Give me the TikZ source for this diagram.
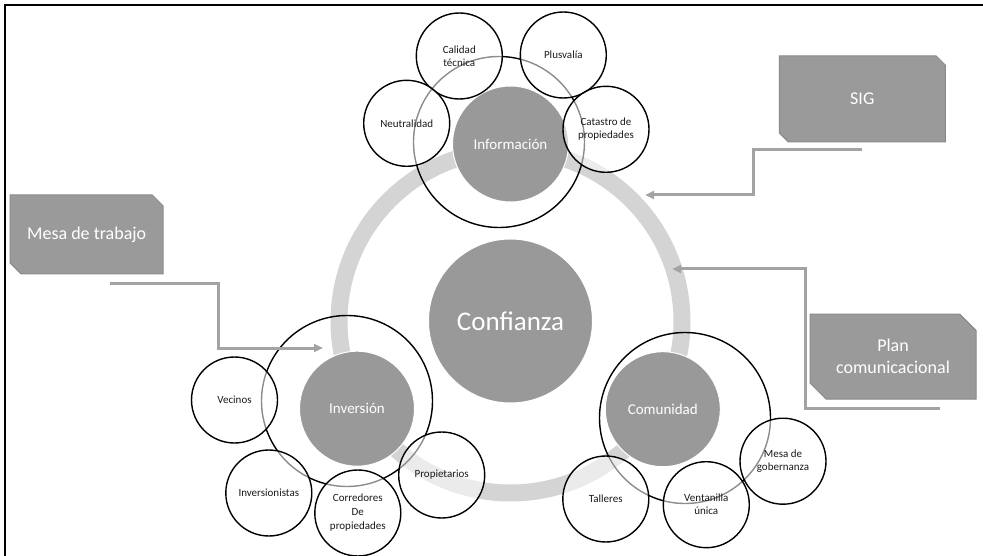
\documentclass[tikz,border=0pt]{standalone}
\usepackage{fontspec}
\setmainfont{Carlito}
\usetikzlibrary{arrows.meta,shapes.misc}
\definecolor{darkfill}{HTML}{999999}
\definecolor{ringgray}{HTML}{D4D4D4}
\definecolor{arrowgray}{HTML}{A3A3A3}
\definecolor{boxfill}{HTML}{9A9A9A}
\definecolor{boxborder}{HTML}{8A8A8A}
\definecolor{smalltext}{HTML}{1A1A1A}
\tikzset{
  darkcirc/.style={circle, fill=darkfill, draw=white, line width=1pt, text=white, inner sep=0pt},
  outlinecirc/.style={circle, draw=black, line width=1.4pt, inner sep=0pt, minimum size=171pt},
  smallcirc/.style={circle, draw=black, line width=1.4pt, fill=white, fill opacity=0.55, text opacity=1,
    text=smalltext, minimum size=86pt, inner sep=0pt, align=center, font=\fontsize{11}{13}\selectfont},
  boxnode/.style={chamfered rectangle, chamfered rectangle corners={north east,south west},
    chamfered rectangle xsep=13pt, fill=boxfill, draw=boxborder, line width=1pt, text=white,
    inner sep=0pt, align=center, font=\fontsize{18}{22}\selectfont},
  arrowline/.style={draw=arrowgray, line width=3pt, -{Triangle[length=9pt,width=8pt]}}
}
\begin{document}
\begin{tikzpicture}[x=1pt,y=-1pt]
\useasboundingbox (0,0) rectangle (983,556);
\draw[line width=2pt] (5,556) -- (5,5) -- (983,5);

% ring
\draw[ringgray, line width=17pt] (510.5,321.5) circle[radius=171.5pt];

% central circle
\node[darkcirc, minimum size=164pt, font=\fontsize{27}{32}\selectfont] (conf) at (510.5,321) {Confianza};

% main dark circles
\node[darkcirc, minimum size=116pt, font=\fontsize{15}{18}\selectfont] (info) at (510.5,144) {Información};
\node[darkcirc, minimum size=115pt, font=\fontsize{15}{18}\selectfont] (inv) at (357,408.7) {Inversión};
\node[darkcirc, minimum size=115pt, font=\fontsize{15}{18}\selectfont] (com) at (662.8,409.2) {Comunidad};

% outline circles
\node[outlinecirc] (infoO) at (499,142) {};
\node[outlinecirc] (invO) at (347,401) {};
\node[outlinecirc] (comO) at (685,418) {};

% small circles - Informacion
\node[smallcirc] (calidad) at (459.3,56) {Calidad\\técnica};
\node[smallcirc] (plus) at (563.3,55) {Plusvalía};
\node[smallcirc] (neutral) at (406.7,123.3) {Neutralidad};
\node[smallcirc] (catastro) at (606,129.3) {Catastro de\\propiedades};

% small circles - Inversion
\node[smallcirc] (vecinos) at (234.5,400) {Vecinos};
\node[smallcirc] (inversionistas) at (268.8,493) {Inversionistas};
\node[smallcirc] (corredores) at (357.8,513) {Corredores\\[1pt]De\\[1pt]propiedades};
\node[smallcirc] (propietarios) at (441.7,475) {Propietarios};

% small circles - Comunidad
\node[smallcirc] (talleres) at (605.8,499) {Talleres};
\node[smallcirc] (ventanilla) at (706.3,504.7) {Ventanilla\\única};
\node[smallcirc] (mesagob) at (783,461.2) {Mesa de\\gobernanza};

% boxes
\node[boxnode, minimum width=166pt, minimum height=86pt] (sig) at (862.3,99) {SIG};
\node[boxnode, minimum width=153pt, minimum height=79pt] (mesa) at (86.7,234.5) {Mesa de trabajo};
\node[boxnode, minimum width=166pt, minimum height=85pt] (plan) at (893,356.7) {Plan\\comunicacional};

% arrows
\coordinate (sigS) at (862,150);
\coordinate (sigT) at (645,195);
\coordinate (planS) at (940,408);
\coordinate (planT) at (672,269);
\coordinate (mesaS) at (110,284);
\coordinate (mesaT) at (323,348);
\draw[arrowline] (sigS) -- ++(-109,0) |- (sigT);
\draw[arrowline] (planS) -- ++(-135,0) |- (planT);
\draw[arrowline] (mesaS) -- ++(108,0) |- (mesaT);
\end{tikzpicture}
\end{document}
